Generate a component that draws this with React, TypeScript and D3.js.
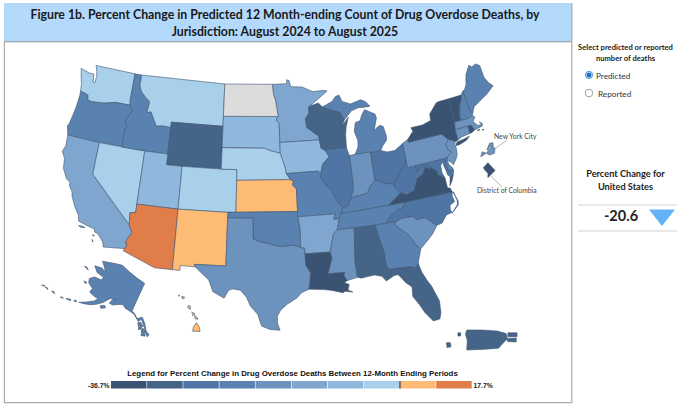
import * as d3 from "d3";

type Pt = [number, number];

const CODES = ["WA","OR","CA","NV","ID","MT","WY","UT","AZ","CO","NM","SD","NE","KS","OK","TX","MN","IA","MO","AR","LA","WI","IL","MI","IN","OH","KY","TN","MS","AL","GA","FL","SC","NC","VA","WV","PA","NY","VT","NH","ME","MA","RI","CT","NJ","DE","MD"];
const VALUES = [-2,-21,-12,-3,-20,-3,-30,-8,14,-3,5,-8,-2,4,-21,-17,-11,-7,-20,-10,-33,-29,-25,-20,-16,-24,-20,-19,-17,-28,-21,-31,-17,-27,-34,-26,-17,-33,-35,-20,-20,-17,-34,-17,-17,-20,-25];
const AK_VALUE = -20, HI_VALUE = 5, PR_VALUE = -29, DC_VALUE = -34, NYC_VALUE = -17;
const US_CHANGE = "-20.6";
const MIN_CHANGE = -36.7, MAX_CHANGE = 17.7;

const BIN_COLORS = ["#3a5372","#446488","#4e75a3","#5a82b0","#6c93bd","#7fa6cf","#8fb8df","#a8d0ea","#fdbb75","#e07d49"];
const NO_DATA = "#dcdcdc";

const TITLE_LINES = ["Figure 1b. Percent Change in Predicted 12 Month-ending Count of Drug Overdose Deaths, by","Jurisdiction: August 2024 to August 2025"];

// lon/lat outlines, simplified by hand
const OUTLINES: Record<string, Pt[][]> = {
  WA: [[[-124.7,48.38],[-123.5,48.15],[-122.75,48.15],[-122.6,47.4],[-122.35,47.4],[-122.3,48.0],[-122.5,48.6],[-122.75,49],[-117.03,49],[-117.04,46.42],[-116.92,46],[-118.98,46],[-119.3,45.93],[-120.5,45.7],[-121.2,45.65],[-122.2,45.57],[-122.76,45.65],[-122.9,46.1],[-123.4,46.2],[-124,46.27],[-124.1,46.9],[-124.4,47.6]]],
  OR: [[[-124,46.27],[-123.4,46.2],[-122.9,46.1],[-122.76,45.65],[-122.2,45.57],[-121.2,45.65],[-120.5,45.7],[-119.3,45.93],[-118.98,46],[-116.92,46],[-116.47,45.6],[-116.85,45],[-117.2,44.45],[-116.85,44],[-117.03,43.83],[-117.03,42],[-120,42],[-124.2,42],[-124.55,42.84],[-124.4,43],[-124.2,43.9],[-124.05,44.7],[-123.95,45.9]]],
  CA: [[[-124.2,42],[-120,42],[-120,39],[-114.6,35],[-114.14,34.3],[-114.7,33.4],[-114.5,33],[-114.72,32.72],[-117.12,32.53],[-117.3,33],[-118,33.65],[-118.4,33.75],[-118.5,34.03],[-119.2,34.15],[-120.5,34.45],[-120.65,34.98],[-121.3,35.7],[-121.9,36.6],[-122,36.96],[-122.5,37.5],[-122.5,37.8],[-123,38],[-123.7,38.9],[-123.85,39.8],[-124.35,40.4],[-124.1,41]],[[-120.4,34.03],[-119.9,34.07],[-119.6,33.98],[-120.1,33.93]],[[-118.6,33.47],[-118.35,33.42],[-118.5,33.35]],[[-118.55,33.03],[-118.35,32.82],[-118.45,32.82]]],
  NV: [[[-120,42],[-114.04,42],[-114.05,37],[-114.05,36.2],[-114.74,36.1],[-114.65,35.6],[-114.6,35],[-120,39]]],
  ID: [[[-117.03,49],[-116.05,49],[-116.05,48],[-115.7,47.45],[-114.95,46.95],[-114.35,46.65],[-114.5,45.6],[-113.95,45.7],[-113.45,45.05],[-113,44.45],[-112.3,44.55],[-111.5,44.55],[-111.05,44.48],[-111.05,42],[-114.04,42],[-117.03,42],[-117.03,43.83],[-116.85,44],[-117.2,44.45],[-116.85,45],[-116.47,45.6],[-116.92,46],[-117.04,46.42]]],
  MT: [[[-116.05,49],[-104.05,49],[-104.05,45.94],[-104.05,45],[-111.05,45],[-111.05,44.48],[-111.5,44.55],[-112.3,44.55],[-113,44.45],[-113.45,45.05],[-113.95,45.7],[-114.5,45.6],[-114.35,46.65],[-114.95,46.95],[-115.7,47.45],[-116.05,48]]],
  WY: [[[-111.05,45],[-104.05,45],[-104.05,43],[-104.05,41],[-109.05,41],[-111.05,41]]],
  UT: [[[-114.04,42],[-111.05,42],[-111.05,41],[-109.05,41],[-109.05,37],[-114.05,37]]],
  AZ: [[[-114.05,37],[-109.05,37],[-109.05,31.33],[-111.07,31.33],[-114.81,32.5],[-114.72,32.72],[-114.5,33],[-114.7,33.4],[-114.14,34.3],[-114.6,35],[-114.65,35.6],[-114.74,36.1],[-114.05,36.2]]],
  CO: [[[-109.05,41],[-104.05,41],[-102.05,41],[-102.05,40],[-102.05,37],[-103,37],[-109.05,37]]],
  NM: [[[-109.05,37],[-103,37],[-103.04,36.5],[-103.06,32],[-106.62,32],[-106.53,31.78],[-108.21,31.78],[-108.21,31.33],[-109.05,31.33]]],
  ND: [[[-104.05,49],[-97.23,49],[-97.1,48],[-96.85,47.5],[-96.56,46],[-96.56,45.94],[-104.05,45.94]]],
  SD: [[[-104.05,45.94],[-96.56,45.94],[-96.85,45.6],[-96.45,45.3],[-96.45,43.5],[-96.45,42.49],[-97.9,42.8],[-98.5,43],[-104.05,43]]],
  NE: [[[-104.05,43],[-98.5,43],[-97.9,42.8],[-96.45,42.49],[-96.1,41.7],[-95.9,41.2],[-95.77,40.58],[-95.31,40],[-102.05,40],[-102.05,41],[-104.05,41]]],
  KS: [[[-102.05,40],[-95.31,40],[-94.9,39.8],[-95.1,39.5],[-94.61,39.1],[-94.62,37],[-103,37],[-102.05,37]]],
  OK: [[[-103,37],[-94.62,37],[-94.62,36.5],[-94.43,35.4],[-94.48,33.64],[-95.5,33.9],[-96.5,33.8],[-97.2,33.85],[-98.1,34.1],[-99.2,34.3],[-100,34.56],[-100,36.5],[-103.04,36.5]]],
  TX: [[[-103.04,36.5],[-100,36.5],[-100,34.56],[-99.2,34.3],[-98.1,34.1],[-97.2,33.85],[-96.5,33.8],[-95.5,33.9],[-94.48,33.64],[-94.04,33.55],[-94.04,33.02],[-94.04,31.99],[-93.55,31.2],[-93.7,30.3],[-93.85,29.7],[-94.7,29.4],[-95.2,28.95],[-96.3,28.4],[-97,27.9],[-97.4,27.3],[-97.4,26.6],[-97.15,25.96],[-98.2,26.05],[-99.1,26.4],[-99.5,27.5],[-100.3,28.3],[-100.7,29.1],[-101.4,29.77],[-102.3,29.88],[-102.7,29.7],[-103.15,28.98],[-104.4,29.55],[-104.9,30.6],[-106.53,31.78],[-106.62,32],[-103.06,32]]],
  MN: [[[-97.23,49],[-95.15,49],[-95.15,49.38],[-94.8,49.3],[-94.6,48.7],[-93,48.6],[-91.5,48.07],[-90,48.1],[-89.5,48],[-92.1,46.75],[-92.3,46.66],[-92.3,46.1],[-92.85,45.6],[-92.75,44.75],[-91.25,43.85],[-91.22,43.5],[-96.45,43.5],[-96.45,45.3],[-96.85,45.6],[-96.56,45.94],[-96.56,46],[-96.85,47.5],[-97.1,48]]],
  IA: [[[-96.45,43.5],[-91.22,43.5],[-91.1,42.7],[-90.64,42.51],[-90.15,41.85],[-91.1,41.2],[-91.42,40.38],[-91.73,40.61],[-95.77,40.58],[-95.9,41.2],[-96.1,41.7],[-96.45,42.49]]],
  MO: [[[-95.77,40.58],[-91.73,40.61],[-91.42,40.38],[-91.5,40],[-90.7,39],[-90.2,38.75],[-90.2,38.4],[-89.5,37.3],[-89.15,36.99],[-89.4,36.5],[-89.7,36],[-90.37,36],[-90.15,36.5],[-94.62,36.5],[-94.62,37],[-94.61,39.1],[-95.1,39.5],[-94.9,39.8],[-95.31,40]]],
  AR: [[[-94.62,36.5],[-90.15,36.5],[-90.37,36],[-89.7,36],[-90.1,35],[-90.6,34.6],[-91.15,33],[-94.04,33.02],[-94.04,33.55],[-94.48,33.64],[-94.43,35.4]]],
  LA: [[[-94.04,33.02],[-91.15,33],[-91,32.4],[-91.6,31],[-89.73,31],[-89.85,30.65],[-89.55,30.18],[-89.9,30],[-89.4,29.8],[-89.6,29.3],[-89.1,29.05],[-89.9,29.2],[-90.2,29.1],[-91.3,29.4],[-92.2,29.55],[-93.85,29.7],[-93.7,30.3],[-93.55,31.2],[-94.04,31.99]]],
  WI: [[[-92.1,46.75],[-90.9,46.95],[-90.4,46.55],[-89.1,46.14],[-88.1,45.9],[-87.6,45.1],[-88,44.55],[-87.05,45.3],[-87.5,44.4],[-87.7,43.7],[-87.8,42.49],[-90.64,42.51],[-91.1,42.7],[-91.22,43.5],[-91.25,43.85],[-92.75,44.75],[-92.85,45.6],[-92.3,46.1],[-92.3,46.66]]],
  IL: [[[-90.64,42.51],[-87.8,42.49],[-87.6,41.85],[-87.52,41.7],[-87.53,39.35],[-87.53,38.7],[-88,37.8],[-88.5,37.1],[-89.15,36.99],[-89.5,37.3],[-90.2,38.4],[-90.2,38.75],[-90.7,39],[-91.5,40],[-91.42,40.38],[-91.1,41.2],[-90.15,41.85]]],
  MI: [[[-86.82,41.76],[-84.8,41.76],[-84.8,41.7],[-83.45,41.73],[-83.15,42.1],[-82.5,42.6],[-82.42,43],[-82.6,43.9],[-82.95,44.07],[-83.4,43.95],[-83.9,43.65],[-83.3,44.8],[-83.4,45.2],[-84.7,45.77],[-85.2,45.3],[-85.55,44.8],[-86.2,44.7],[-86.5,43.9],[-86.2,43],[-86.3,42.4]],[[-90.4,46.55],[-89,46.95],[-88.4,47.4],[-87.9,47.47],[-87.6,46.85],[-86.5,46.5],[-85,46.75],[-84.4,46.5],[-83.9,46],[-84.7,46],[-85.5,46.05],[-86.5,45.85],[-87.6,45.1],[-88.1,45.9],[-89.1,46.14]]],
  IN: [[[-87.52,41.7],[-87.2,41.76],[-86.82,41.76],[-84.8,41.76],[-84.8,39.1],[-85.4,38.7],[-86,38],[-87.1,37.9],[-88,37.8],[-87.53,38.7],[-87.53,39.35]]],
  OH: [[[-84.8,41.7],[-83.45,41.73],[-82.7,41.5],[-81.7,41.5],[-80.52,42],[-80.52,40.64],[-80.65,40.2],[-81.7,39.3],[-82.6,38.42],[-83.6,38.65],[-84.8,39.1]]],
  KY: [[[-89.15,36.99],[-89.4,36.5],[-88.05,36.5],[-83.68,36.6],[-82.9,37],[-81.97,37.54],[-82.6,38.17],[-82.6,38.42],[-83.6,38.65],[-84.8,39.1],[-85.4,38.7],[-86,38],[-87.1,37.9],[-88,37.8],[-88.5,37.1]]],
  TN: [[[-90.1,35],[-88.2,35],[-85.6,34.98],[-84.32,34.99],[-83.7,35.55],[-82.6,36.05],[-82,36.12],[-81.68,36.59],[-83.68,36.6],[-88.05,36.5],[-89.4,36.5],[-89.7,36]]],
  MS: [[[-91.15,33],[-90.6,34.6],[-90.1,35],[-88.2,35],[-88.1,34.9],[-88.47,31.9],[-88.4,30.37],[-89.55,30.18],[-89.85,30.65],[-89.73,31],[-91.6,31],[-91,32.4]]],
  AL: [[[-88.2,35],[-85.6,34.98],[-85.18,32.87],[-85,32.3],[-85.05,31.55],[-85,31],[-87.6,31],[-87.5,30.3],[-88,30.25],[-88.4,30.37],[-88.47,31.9],[-88.1,34.9]]],
  GA: [[[-85.6,34.98],[-84.32,34.99],[-83.11,35],[-83.35,34.7],[-81.9,33.5],[-81.4,32.6],[-80.9,32.05],[-81.4,31],[-81.5,30.72],[-82.05,30.36],[-82.2,30.57],[-84.86,30.7],[-85,31],[-85.05,31.55],[-85,32.3],[-85.18,32.87]]],
  FL: [[[-87.6,31],[-85,31],[-84.86,30.7],[-82.2,30.57],[-82.05,30.36],[-81.5,30.72],[-81.3,29.9],[-80.9,29],[-80.55,28.4],[-80.05,26.9],[-80.15,25.75],[-80.4,25.2],[-81.1,25.15],[-81.8,26.1],[-82.2,26.9],[-82.75,27.8],[-82.65,28.7],[-83.2,29.15],[-83.9,30.05],[-84.35,30.05],[-85.3,29.65],[-85.7,30.15],[-86.5,30.38],[-87.5,30.3]]],
  SC: [[[-83.11,35],[-82.3,35.2],[-81.05,35.15],[-80.8,34.82],[-79.67,34.8],[-78.55,33.86],[-79.2,33.2],[-79.9,32.7],[-80.9,32.05],[-81.4,32.6],[-81.9,33.5],[-83.35,34.7]]],
  NC: [[[-84.32,34.99],[-83.11,35],[-82.3,35.2],[-81.05,35.15],[-80.8,34.82],[-79.67,34.8],[-78.55,33.86],[-77.9,33.95],[-77.2,34.6],[-76.5,34.7],[-76.6,35],[-76.5,35.4],[-75.9,35.6],[-76,36.2],[-75.87,36.55],[-81.68,36.59],[-82,36.12],[-82.6,36.05],[-83.7,35.55]],[[-76.5,34.62],[-75.55,35.23],[-75.45,35.6],[-75.8,36.5],[-75.72,36.5],[-75.55,35.7],[-75.62,35.3]]],
  VA: [[[-83.68,36.6],[-81.68,36.59],[-75.87,36.55],[-76,36.95],[-76.3,37],[-76.3,37.55],[-76.3,38],[-77.05,38.4],[-77.04,38.8],[-77.5,39.1],[-77.72,39.32],[-77.83,39.13],[-78.35,39.4],[-78.9,38.8],[-79.65,38.55],[-80.3,37.5],[-81.25,37.25],[-81.97,37.54],[-82.9,37]],[[-75.95,37.15],[-75.65,37.95],[-75.25,38.03],[-75.6,37.5]]],
  WV: [[[-81.97,37.54],[-81.25,37.25],[-80.3,37.5],[-79.65,38.55],[-78.9,38.8],[-78.35,39.4],[-77.83,39.13],[-77.72,39.32],[-78.2,39.68],[-79.48,39.2],[-79.48,39.72],[-80.52,39.72],[-80.52,40.64],[-80.65,40.2],[-81.7,39.3],[-82.6,38.42],[-82.6,38.17]]],
  PA: [[[-80.52,42],[-79.76,42.27],[-79.76,42],[-75.35,42],[-75.1,41.75],[-74.7,41.36],[-75.15,40.95],[-75.05,40.45],[-74.72,40.15],[-75.4,39.8],[-75.79,39.72],[-77.5,39.72],[-79.48,39.72],[-80.52,39.72],[-80.52,40.64]]],
  NY: [[[-79.76,42],[-79.76,42.27],[-78.9,42.9],[-79.05,43.27],[-77.5,43.27],[-76.3,43.5],[-76.2,44.1],[-75,44.95],[-74.7,45],[-73.35,45],[-73.25,43.6],[-73.3,42.75],[-73.5,42.05],[-73.49,41.2],[-73.65,41],[-73.9,41],[-74.7,41.36],[-75.1,41.75],[-75.35,42]],[[-74,40.6],[-73.7,40.9],[-72.6,41],[-72,41.1],[-72.5,40.8],[-73.5,40.6]]],
  VT: [[[-73.35,45],[-71.5,45],[-71.5,44.75],[-72.05,44.1],[-72.45,43.15],[-72.46,42.73],[-73.3,42.75],[-73.25,43.6]]],
  NH: [[[-71.5,45],[-71.08,45.3],[-70.98,43.4],[-70.7,43.07],[-70.85,42.87],[-71.3,42.7],[-72.46,42.73],[-72.45,43.15],[-72.05,44.1],[-71.5,44.75]]],
  ME: [[[-71.08,45.3],[-70.8,45.4],[-70.4,45.8],[-70.25,46.2],[-70,46.7],[-69.22,47.45],[-68.9,47.18],[-68.3,47.35],[-67.8,47.07],[-67.78,45.9],[-67.45,45.3],[-67,44.85],[-68.2,44.3],[-69,44.05],[-69.8,43.75],[-70.25,43.6],[-70.7,43.07],[-70.98,43.4]]],
  MA: [[[-73.5,42.05],[-73.3,42.75],[-72.46,42.73],[-71.3,42.7],[-70.85,42.87],[-70.6,42.65],[-71,42.3],[-70.55,41.8],[-70,41.8],[-70.25,42.07],[-69.95,41.9],[-70,41.65],[-70.65,41.55],[-71.12,41.5],[-71.38,42.02],[-71.8,42.02]],[[-70.83,41.36],[-70.5,41.45],[-70.5,41.33]],[[-70.2,41.3],[-69.95,41.3],[-70.05,41.22]]],
  RI: [[[-71.8,42.02],[-71.38,42.02],[-71.12,41.5],[-71.5,41.37],[-71.85,41.32]]],
  CT: [[[-73.5,42.05],[-71.8,42.02],[-71.85,41.32],[-72.9,41.25],[-73.65,41],[-73.49,41.2]]],
  NJ: [[[-74.7,41.36],[-73.9,41],[-74.1,40.7],[-74,40.45],[-74.1,39.8],[-74.4,39.4],[-74.9,38.95],[-75.1,39.25],[-75.55,39.5],[-75.4,39.8],[-74.72,40.15],[-75.05,40.45],[-75.15,40.95]]],
  DE: [[[-75.79,39.72],[-75.4,39.8],[-75.55,39.5],[-75.4,39.05],[-75.07,38.65],[-75.05,38.45],[-75.7,38.46]]],
  MD: [[[-79.48,39.72],[-77.5,39.72],[-75.79,39.72],[-75.7,38.46],[-75.05,38.45],[-75.25,38.03],[-75.65,37.95],[-75.9,38.2],[-75.95,38.6],[-76.1,39.2],[-76.05,39.5],[-76.45,39.2],[-76.5,38.5],[-76.35,38.05],[-77.05,38.4],[-77.04,38.8],[-77.5,39.1],[-77.72,39.32],[-78.2,39.68],[-79.48,39.2]]],
};

const AK_OUTLINE: Pt[][] = [
  [[-141,69.65],[-141,60.3],[-139.5,60],[-137.5,58.9],[-135.5,59.8],[-134,58.8],[-133.4,58.4],[-131.8,56.6],[-130,55.9],[-130.6,55.2],[-132,56.4],[-133,57.3],[-134.2,58.2],[-135.5,59.2],[-136.5,58.3],[-139.5,59.7],[-142,60],[-144.5,60.2],[-146,60.8],[-148.5,60],[-150,59.3],[-151.8,59.2],[-151.5,60.6],[-150,61.2],[-152.5,60.5],[-153.5,59.6],[-154.2,58.6],[-156.5,57],[-158.5,56],[-161,55.2],[-163,54.7],[-160.5,56],[-158,57.5],[-157.3,58.7],[-159,58.5],[-162,58.7],[-162,60],[-165,60.6],[-166,61.7],[-164.5,63],[-161,63.5],[-161,64.5],[-165,64.5],[-168,65.6],[-164.5,66.5],[-162,66.2],[-163.5,67.1],[-166.5,68.35],[-163,69.5],[-160,70.5],[-156.5,71.35],[-152,70.8],[-146,70.1]],
  [[-154.7,57.3],[-153,58],[-152.2,57.6],[-153.8,56.8]],
  [[-171.7,63.4],[-169,63.3],[-170.5,63.7]],
  [[-167.2,60.2],[-165.6,60.3],[-166,59.8]],
  [[-136.5,58],[-135,58.3],[-134.8,57.4],[-135.8,57.2]],
  [[-134.6,57.9],[-133.9,57.6],[-134.4,56.4],[-134.9,56.9]],
  [[-135.6,57.2],[-134.8,56.8],[-134.9,56.2],[-135.4,56.7]],
  [[-133.9,56.9],[-132.9,56.9],[-132.9,56],[-133.6,56.1]],
  [[-133.6,56.3],[-132,56],[-131.5,55.2],[-133.2,55]],
  [[-132.5,56.7],[-131.8,56.4],[-132.3,56.1]],
  [[-165,54.1],[-164,54.4],[-163.9,54.6],[-164.9,54.6]],
  [[-168.2,53.3],[-166.2,53.6],[-166.3,54],[-167.2,53.7]],
  [[-170.3,52.6],[-169.5,53],[-169,52.8]],
  [[-174.4,52.1],[-172.8,52.2],[-173.8,52.5]],
  [[-177.5,51.7],[-176,51.7],[-176.5,52]],
  [[-179,51.3],[-177.8,51.7],[-178,51.9]],
];

const HI_OUTLINE: Pt[][] = [
  [[-155.9,20.25],[-155.2,19.95],[-154.8,19.5],[-155.7,18.95],[-155.95,19.6]],
  [[-156.7,20.95],[-156.3,20.95],[-156,20.75],[-156.4,20.6]],
  [[-157.3,21.1],[-156.75,21.17],[-156.75,21.05],[-157.3,21.07]],
  [[-157.05,20.9],[-156.85,20.9],[-156.9,20.75]],
  [[-158.25,21.55],[-158,21.7],[-157.65,21.3],[-158.1,21.3]],
  [[-159.75,22.1],[-159.4,22.25],[-159.3,22],[-159.6,21.9]],
  [[-160.25,22],[-160.05,22],[-160.15,21.85]],
];

const PR_OUTLINE: Pt[][] = [
  [[-67.25,18.38],[-67.2,18.5],[-66.6,18.5],[-66,18.47],[-65.65,18.4],[-65.6,18.25],[-65.8,18.1],[-65.95,17.98],[-66.5,17.95],[-67.2,17.93],[-67.18,18.2]],
  [[-65.6,18.26],[-65.25,18.27],[-65.25,18.16],[-65.6,18.17]],
  [[-65.58,18.42],[-65.22,18.42],[-65.22,18.31],[-65.58,18.31]],
  [[-68,18.14],[-67.85,18.14],[-67.82,18.02],[-67.98,18]],
  [[-67.55,18.42],[-67.44,18.42],[-67.44,18.33],[-67.55,18.33]],
];

const NYC_OUTLINE: Pt[][] = [
  [[-74.25,40.5],[-74.05,40.6],[-74.2,40.64]],
  [[-74.02,40.7],[-73.92,40.88],[-73.8,40.9],[-73.78,40.8],[-73.93,40.78],[-73.97,40.71]],
  [[-74.04,40.6],[-73.95,40.7],[-73.85,40.78],[-73.72,40.75],[-73.74,40.6],[-73.92,40.55]],
];

const DC_OUTLINE: Pt[][] = [
  [[-77.12,38.93],[-77.04,39],[-76.91,38.89],[-77.04,38.79],[-77.04,38.85],[-77.1,38.9]],
];

const W = 680, H = 406;

type Proj = (p: Pt) => Pt;

function albers(scale: number, x: number, y: number) {
  return d3.geoAlbers().rotate([100, 0]).center([0, 38.7]).scale(scale).translate([x, y]) as unknown as Proj;
}

// the source map is a little narrower than a true Albers
const base = albers(610, 0, 194.5);
const conus: Proj = p => {
  const [x, y] = base(p);
  return [253 + x * 0.985, y];
};
const alaska = albers(225, 218, 412.5);
const hawaii = albers(420, 570, 301);
const nyc = d3.geoMercator().center([-73.98, 40.72]).scale(1530).translate([488, 149]) as unknown as Proj;
const dc = d3.geoMercator().center([-77.02, 38.89]).scale(3190).translate([489, 170.5]) as unknown as Proj;
// Puerto Rico is stretched north-south in the source map
const prX = d3.scaleLinear().domain([-67.27, -65.22]).range([465, 517]);
const prY = d3.scaleLinear().domain([17.93, 18.5]).range([350, 330]);
const puerto: Proj = ([lon, lat]) => [prX(lon), prY(lat)];

const line = d3.line();
function toPath(rings: Pt[][], proj: Proj) {
  return rings.map(r => line(r.map(p => proj(p))) + "Z").join("");
}

const binScale = d3.scaleThreshold<number, string>()
  .domain([
    ...d3.range(1, 8).map(i => MIN_CHANGE + (i * -MIN_CHANGE) / 8),
    0,
    MAX_CHANGE / 2,
  ])
  .range(BIN_COLORS);

const legendX = d3.scaleLinear().domain([0, BIN_COLORS.length]).range([110.7, 472]);

const BORDER = "#3f5670";
const LABEL_FONT = "Lato, sans-serif";
const LEGEND_FONT = "'Liberation Sans', sans-serif";
const FRAME = "#ababab";

export default function App() {
  const shapes = [
    ...CODES.map((c, i) => ({ id: c, d: toPath(OUTLINES[c], conus), fill: binScale(VALUES[i]) })),
    { id: "ND", d: toPath(OUTLINES.ND, conus), fill: NO_DATA },
    { id: "AK", d: toPath(AK_OUTLINE, alaska), fill: binScale(AK_VALUE) },
    { id: "HI", d: toPath(HI_OUTLINE, hawaii), fill: binScale(HI_VALUE) },
    { id: "PR", d: toPath(PR_OUTLINE, puerto), fill: binScale(PR_VALUE) },
    { id: "NYC", d: toPath(NYC_OUTLINE, nyc), fill: binScale(NYC_VALUE) },
    { id: "DC", d: toPath(DC_OUTLINE, dc), fill: binScale(DC_VALUE) },
  ];

  return (
    <svg width={W} height={H} style={{ position: "absolute", left: 0, top: 0, background: "#fff" }}>
      {/* banner and frame */}
      <rect x={4} y={3} width={568} height={38.5} fill="#b3d9fc" />
      <line x1={4} x2={572} y1={41.8} y2={41.8} stroke="#8a8f94" strokeWidth={1} />
      <path d="M4.4,42V402.6H571.8V3" fill="none" stroke={FRAME} strokeWidth={1.2} />
      {TITLE_LINES.map((t, i) => (
        <text key={t} x={285} y={19 + i * 17.3} textAnchor="middle" fontFamily={LABEL_FONT} fontWeight={700} fontSize={12.3} fill="#1a1a1a">{t}</text>
      ))}

      {/* states */}
      <g stroke={BORDER} strokeWidth={0.6} strokeLinejoin="round">
        {shapes.map(s => <path key={s.id} d={s.d} fill={s.fill} />)}
      </g>

      {/* inset leaders */}
      <line x1={493} y1={150} x2={507} y2={140} stroke="#888" strokeWidth={0.6} />
      <line x1={491} y1={176} x2={502} y2={187} stroke="#888" strokeWidth={0.6} />
      <text x={494} y={139} fontFamily={LABEL_FONT} fontSize={6.8} fill="#444">New York City</text>
      <text x={477} y={193} fontFamily={LABEL_FONT} fontSize={6.8} fill="#444">District of Columbia</text>

      {/* legend */}
      <text x={292.5} y={376} textAnchor="middle" fontFamily={LEGEND_FONT} fontWeight={700} fontSize={7.87} fill="#111">Legend for Percent Change in Drug Overdose Deaths Between 12-Month Ending Periods</text>
      {BIN_COLORS.map((c, i) => (
        <rect key={c} x={legendX(i) + 0.3} y={381} width={legendX(i + 1) - legendX(i) - 0.6} height={7.5} fill={c} />
      ))}
      <rect x={legendX(8) - 0.4} y={381} width={1.2} height={7.5} fill="#333" />
      <text x={109.5} y={387.5} textAnchor="end" fontFamily={LEGEND_FONT} fontWeight={700} fontSize={6.8} fill="#222">{MIN_CHANGE}%</text>
      <text x={473.5} y={387.5} fontFamily={LEGEND_FONT} fontWeight={700} fontSize={6.8} fill="#222">{MAX_CHANGE}%</text>

      {/* side panel */}
      <g fontFamily={LABEL_FONT} textAnchor="middle">
        <text x={625.5} y={50} fontSize={7.6} fontWeight={700} fill="#222">Select predicted or reported</text>
        <text x={625.5} y={61} fontSize={7.6} fontWeight={700} fill="#222">number of deaths</text>
        <text x={625.5} y={177} fontSize={9.2} fontWeight={700} fill="#222">Percent Change for</text>
        <text x={625.5} y={190} fontSize={9.2} fontWeight={700} fill="#222">United States</text>
        <text x={621} y={221} fontSize={14.5} fontWeight={700} fill="#222">{US_CHANGE}</text>
      </g>
      <circle cx={589} cy={75} r={3.6} fill="#fff" stroke="#1a73c8" strokeWidth={0.8} />
      <circle cx={589} cy={75} r={2.5} fill="#1a73c8" />
      <text x={596} y={79} fontFamily={LABEL_FONT} fontSize={8.2} fill="#333">Predicted</text>
      <circle cx={589} cy={93} r={3.8} fill="#fff" stroke="#777" strokeWidth={0.7} />
      <text x={598} y={97} fontFamily={LABEL_FONT} fontSize={8.2} fill="#333">Reported</text>
      <line x1={578} x2={677} y1={205} y2={205} stroke="#c8c8c8" strokeWidth={0.8} />
      <line x1={578} x2={677} y1={231} y2={231} stroke="#c8c8c8" strokeWidth={0.8} />
      <path d="M649,209.5L675,209.5L662,226Z" fill="#62b3f8" />
    </svg>
  );
}
